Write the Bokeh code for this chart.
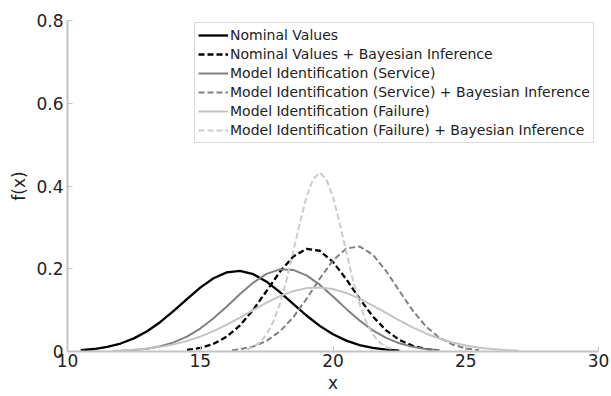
from bokeh.plotting import figure
from bokeh.models import Range1d, FixedTicker, Legend, LegendItem
from bokeh.embed import file_html
from bokeh.resources import INLINE

labels = [
    "Nominal Values",
    "Nominal Values + Bayesian Inference",
    "Model Identification (Service)",
    "Model Identification (Service) + Bayesian Inference",
    "Model Identification (Failure)",
    "Model Identification (Failure) + Bayesian Inference",
]

x_nom = [10.5, 11, 11.5, 12, 12.5, 13, 13.5, 14, 14.5, 15, 15.5, 16, 16.5, 17, 17.5,
         18, 18.5, 19, 19.5, 20, 20.5, 21, 21.5, 22, 22.5]
y_nom = [0.0030, 0.0060, 0.0111, 0.0193, 0.0317, 0.0490, 0.0714, 0.0980, 0.1267, 0.1543,
         0.1770, 0.1913, 0.1948, 0.1868, 0.1688, 0.1436, 0.1152, 0.0870, 0.0619, 0.0415,
         0.0262, 0.0156, 0.0087, 0.0046, 0.0023]

x_nom_b = [14.5, 15, 15.5, 16, 16.5, 17, 17.5, 18, 18.5, 19, 19.5, 20, 20.5, 21, 21.5,
           22, 22.5, 23, 23.5, 24]
y_nom_b = [0.0037, 0.0086, 0.0185, 0.0359, 0.0633, 0.1011, 0.1465, 0.1925, 0.2296, 0.2483,
           0.2435, 0.2165, 0.1747, 0.1278, 0.0848, 0.0511, 0.0279, 0.0138, 0.0062, 0.0025]

x_srv = [12, 12.5, 13, 13.5, 14, 14.5, 15, 15.5, 16, 16.5, 17, 17.5, 18, 18.5, 19, 19.5,
         20, 20.5, 21, 21.5, 22, 22.5, 23, 23.5, 24]
y_srv = [0.0016, 0.0034, 0.0068, 0.0126, 0.0220, 0.0360, 0.0555, 0.0802, 0.1089, 0.1390,
         0.1666, 0.1876, 0.1985, 0.1972, 0.1841, 0.1615, 0.1331, 0.1030, 0.0749, 0.0511,
         0.0328, 0.0198, 0.0112, 0.0060, 0.0030]

x_srv_b = [16.2, 16.5, 17, 17.5, 18, 18.5, 19, 19.5, 20, 20.5, 21, 21.5, 22, 22.5, 23,
           23.5, 24, 24.5, 25, 25.5]
y_srv_b = [0.0030, 0.0053, 0.0123, 0.0257, 0.0485, 0.0825, 0.1267, 0.1758, 0.2201, 0.2488,
           0.2539, 0.2340, 0.1947, 0.1462, 0.0992, 0.0607, 0.0336, 0.0168, 0.0076, 0.0031]

x_fail = [11.7, 12, 12.5, 13, 13.5, 14, 14.5, 15, 15.5, 16, 16.5, 17, 17.5, 18, 18.5, 19,
          19.5, 20, 20.5, 21, 21.5, 22, 22.5, 23, 23.5, 24, 24.5, 25, 25.5, 26, 26.5, 27]
y_fail = [0.0017, 0.0025, 0.0043, 0.0070, 0.0112, 0.0172, 0.0253, 0.0360, 0.0492, 0.0648,
          0.0821, 0.1004, 0.1181, 0.1337, 0.1458, 0.1532, 0.1549, 0.1509, 0.1415, 0.1277,
          0.1111, 0.0931, 0.0751, 0.0583, 0.0436, 0.0314, 0.0218, 0.0145, 0.0093, 0.0058,
          0.0035, 0.0020]

x_fail_b = [16.75, 17, 17.25, 17.5, 17.75, 18, 18.25, 18.5, 18.75, 19, 19.25, 19.5, 19.75,
            20, 20.25, 20.5, 20.75, 21, 21.25, 21.5, 21.75, 22, 22.25]
y_fail_b = [0.0051, 0.0111, 0.0222, 0.0414, 0.0717, 0.1156, 0.1728, 0.2404, 0.3108, 0.3732,
            0.4165, 0.4320, 0.4165, 0.3732, 0.3108, 0.2404, 0.1728, 0.1156, 0.0717, 0.0414,
            0.0222, 0.0111, 0.0051]

x_ticks = [10, 15, 20, 25, 30]
y_ticks = [0, 0.2, 0.4, 0.6, 0.8]

FONT = "DejaVu Sans"
AXIS_COL = "#c4c4c4"

p = figure(width=611, height=396, output_backend="svg", toolbar_location=None,
           x_range=Range1d(10, 30), y_range=Range1d(0, 0.8),
           min_border_left=67, min_border_right=13, min_border_top=20, min_border_bottom=45)
p.outline_line_color = None
p.xgrid.grid_line_color = None
p.ygrid.grid_line_color = None
p.background_fill_color = "white"
p.border_fill_color = "white"

for ax in (p.xaxis[0], p.yaxis[0]):
    ax.axis_line_color = AXIS_COL
    ax.axis_line_width = 2
    ax.major_tick_line_color = AXIS_COL
    ax.major_tick_line_width = 1
    ax.major_tick_in = 5
    ax.major_tick_out = 0
    ax.minor_tick_line_color = None
    ax.major_label_text_font = FONT
    ax.major_label_text_font_size = "17px"
    ax.major_label_text_color = "#222222"
    ax.axis_label_text_font = FONT
    ax.axis_label_text_font_size = "17px"
    ax.axis_label_text_font_style = "normal"
    ax.axis_label_text_color = "#222222"

p.xaxis.ticker = FixedTicker(ticks=x_ticks)
p.yaxis.ticker = FixedTicker(ticks=y_ticks)
p.yaxis.major_label_overrides = {0: "0"}
p.xaxis.axis_label = "x"
p.yaxis.axis_label = "f(x)"
p.xaxis.major_label_standoff = 2
p.yaxis.major_label_standoff = 4
p.xaxis.axis_label_standoff = 3
p.yaxis.axis_label_standoff = 4

series = [
    (x_nom, y_nom, "#000000", "solid", 2.3),
    (x_nom_b, y_nom_b, "#000000", "6 3", 2.3),
    (x_srv, y_srv, "#808080", "solid", 2),
    (x_srv_b, y_srv_b, "#808080", "6 3", 2),
    (x_fail, y_fail, "#c4c4c4", "solid", 2),
    (x_fail_b, y_fail_b, "#cbcbcb", "6 3", 2),
]

items = []
for (xs, ys, col, dash, w), lab in zip(series, labels):
    r = p.line(xs, ys, line_color=col, line_dash=dash, line_width=w)
    items.append(LegendItem(label=lab, renderers=[r]))

legend = Legend(items=items, location=(127, 208))
legend.label_text_font = FONT
legend.label_text_font_size = "14px"
legend.label_text_color = "#222222"
legend.border_line_color = "#b8b8b8"
legend.border_line_width = 1.5
legend.background_fill_alpha = 1
legend.padding = 3
legend.spacing = 1
legend.glyph_height = 18
legend.label_height = 18
legend.glyph_width = 30
legend.label_standoff = 2
legend.margin = 0
p.add_layout(legend, "center")

open("out.html", "w").write(file_html(p, INLINE))
